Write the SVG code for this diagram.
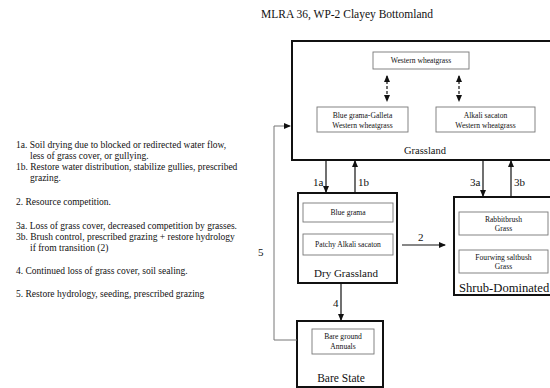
<svg xmlns="http://www.w3.org/2000/svg" width="550" height="388" viewBox="0 0 550 388">
<style>
text{font-family:"Liberation Serif","Times New Roman",serif;fill:#111}
.outer{fill:#fff;stroke:#111;stroke-width:2}
.inner{fill:#fff;stroke:#777;stroke-width:0.9}
.sm{font-size:7.6px;text-anchor:middle}
.st{font-size:11px;text-anchor:middle}
.note{font-size:9.5px}
.lbl{font-size:11px}
.ln{stroke:#111;stroke-width:1.2;fill:none}
.dash{stroke:#111;stroke-width:1.2;stroke-dasharray:3,2;fill:none}
</style>
<defs>
<marker id="ah" markerWidth="7" markerHeight="6" refX="6" refY="3" orient="auto" markerUnits="userSpaceOnUse">
<path d="M0,0 L7,3 L0,6 Z" fill="#111"/>
</marker>
<marker id="ahs" markerWidth="7" markerHeight="6" refX="1" refY="3" orient="auto" markerUnits="userSpaceOnUse">
<path d="M7,0 L0,3 L7,6 Z" fill="#111"/>
</marker>
</defs>
<rect width="550" height="388" fill="#fff"/>
<text x="347" y="18" font-size="11.5" text-anchor="middle">MLRA 36, WP-2 Clayey Bottomland</text>

<g id="notes" class="note">
<text x="16" y="148">1a. Soil drying due to blocked or redirected water flow,</text>
<text x="30" y="159">less of  grass cover, or gullying.</text>
<text x="16" y="170">1b. Restore water distribution, stabilize gullies, prescribed</text>
<text x="30" y="181">grazing.</text>
<text x="16" y="205">2. Resource competition.</text>
<text x="16" y="229">3a. Loss of grass cover, decreased competition by grasses.</text>
<text x="16" y="240">3b. Brush control, prescribed grazing + restore hydrology</text>
<text x="30" y="251">if from transition (2)</text>
<text x="16" y="274">4. Continued loss of grass cover, soil sealing.</text>
<text x="16" y="297">5. Restore hydrology, seeding, prescribed grazing</text>
</g>

<g id="grassland">
<rect class="outer" x="292" y="41" width="262" height="119"/>
<rect class="inner" x="373" y="52" width="96" height="17"/>
<text class="sm" x="421" y="63">Western wheatgrass</text>
<rect class="inner" x="317" y="107" width="91" height="25"/>
<text class="sm" x="362.5" y="117.5">Blue grama-Galleta</text>
<text class="sm" x="362.5" y="127.5">Western wheatgrass</text>
<rect class="inner" x="436" y="107" width="99" height="25"/>
<text class="sm" x="485.5" y="117.5">Alkali sacaton</text>
<text class="sm" x="485.5" y="127.5">Western wheatgrass</text>
<line class="dash" x1="387" y1="76" x2="387" y2="101" marker-start="url(#ahs)" marker-end="url(#ah)"/>
<line class="dash" x1="459" y1="76" x2="459" y2="101" marker-start="url(#ahs)" marker-end="url(#ah)"/>
<text x="425" y="154" font-size="10.5" text-anchor="middle">Grassland</text>
</g>

<g id="dry-grassland">
<rect class="outer" x="298" y="193" width="99" height="90"/>
<rect class="inner" x="303" y="203" width="90" height="19"/>
<text class="sm" x="348" y="215">Blue grama</text>
<rect class="inner" x="303" y="234" width="90" height="21"/>
<text class="sm" x="348" y="247">Patchy Alkali sacaton</text>
<text class="st" x="346" y="277">Dry Grassland</text>
</g>

<g id="shrub-dominated">
<rect class="outer" x="454" y="197" width="100" height="98"/>
<rect class="inner" x="459" y="212" width="89" height="23"/>
<text class="sm" x="503.5" y="221.5">Rabbitbrush</text>
<text class="sm" x="503.5" y="231">Grass</text>
<rect class="inner" x="459" y="250" width="89" height="23"/>
<text class="sm" x="503.5" y="259.5">Fourwing saltbush</text>
<text class="sm" x="503.5" y="269">Grass</text>
<text x="459" y="292" font-size="12.6">Shrub-Dominated</text>
</g>

<g id="bare-state">
<rect class="outer" x="297" y="321" width="86" height="66"/>
<rect class="inner" x="312" y="329" width="62" height="25"/>
<text class="sm" x="343" y="339">Bare ground</text>
<text class="sm" x="343" y="349">Annuals</text>
<text x="341" y="382" font-size="11.5" text-anchor="middle">Bare State</text>
</g>

<g id="connectors">
<line class="ln" x1="326" y1="160" x2="326" y2="192" marker-end="url(#ah)"/>
<line class="ln" x1="355" y1="193" x2="355" y2="161" marker-end="url(#ah)"/>
<line class="ln" x1="483" y1="160" x2="483" y2="196" marker-end="url(#ah)"/>
<line class="ln" x1="511" y1="197" x2="511" y2="161" marker-end="url(#ah)"/>
<line class="ln" x1="402" y1="245" x2="445" y2="245" marker-end="url(#ah)"/>
<line class="ln" x1="341" y1="283" x2="341" y2="320" marker-end="url(#ah)"/>
<polyline points="297,340 274,340 274,126 290,126" fill="none" stroke="#777" stroke-width="1" marker-end="url(#ah)"/>
<text class="lbl" x="313" y="186">1a</text>
<text class="lbl" x="358" y="186">1b</text>
<text class="lbl" x="470" y="186">3a</text>
<text class="lbl" x="514" y="186">3b</text>
<text class="lbl" x="418" y="241">2</text>
<text class="lbl" x="333" y="307">4</text>
<text class="lbl" x="258" y="256">5</text>
</g>
</svg>
